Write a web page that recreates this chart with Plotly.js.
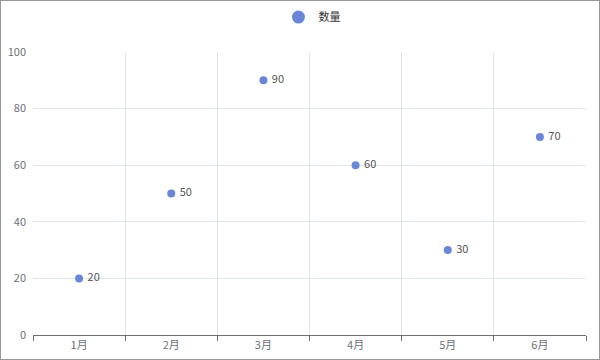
<!DOCTYPE html>
<html>
<head>
<meta charset="utf-8">
<script src="https://cdn.plot.ly/plotly-3.0.1.min.js"></script>
<style>
html,body{margin:0;padding:0;background:#fff;}
#wrap{width:600px;height:360px;box-sizing:border-box;border:1px solid #999;}
#chart{width:598px;height:358px;}
</style>
</head>
<body>
<div id="wrap"><div id="chart"></div></div>
<script>
var categories = ['1月','2月','3月','4月','5月','6月'];
var values = [20, 50, 90, 60, 30, 70];
var seriesName = '数量';
var yTicks = [0, 20, 40, 60, 80, 100];

var color = '#6b86d6';
var font = 'Noto Sans CJK SC, Noto Sans, sans-serif';

var data = [
  {
    type: 'scatter', mode: 'markers+text',
    x: categories, y: values,
    text: values.map(function(v){ return ' ' + v; }), textposition: 'middle right',
    textfont: {family: font, size: 11, color: '#555'},
    marker: {color: color, size: 8},
    showlegend: false, hoverinfo: 'x+y', cliponaxis: false
  },
  {
    type: 'scatter', mode: 'markers',
    x: [null], y: [null], name: seriesName,
    marker: {color: color, size: 13},
    showlegend: true
  }
];

var layout = {
  width: 598, height: 358,
  margin: {l: 32, r: 13, t: 51, b: 24, autoexpand: false},
  paper_bgcolor: '#fff', plot_bgcolor: '#fff',
  font: {family: font, size: 11, color: '#6E7079'},
  showlegend: true,
  legend: {orientation: 'h', x: 0.52, xanchor: 'center', xref: 'container',
           y: 0.955, yanchor: 'middle', yref: 'container',
           font: {family: font, size: 11, color: '#333'}, itemwidth: 30},
  xaxis: {
    type: 'category', range: [-0.5, 5.5], tickson: 'boundaries',
    showgrid: true, gridcolor: '#E0E6F1', gridwidth: 1,
    showline: true, linecolor: '#6E7079', linewidth: 1,
    ticks: 'outside', ticklen: 5, tickcolor: '#6E7079',
    tickfont: {family: font, size: 11, color: '#6E7079'},
    automargin: false, fixedrange: true
  },
  yaxis: {
    range: [0, 100], tickvals: yTicks,
    showgrid: true, gridcolor: '#E0E6F1', gridwidth: 1,
    zeroline: false, showline: false, ticks: '',
    ticklabelstandoff: 6,
    tickfont: {family: font, size: 11, color: '#6E7079'},
    automargin: false, fixedrange: true
  }
};

Plotly.newPlot('chart', data, layout, {displayModeBar: false, staticPlot: true});
</script>
</body>
</html>
